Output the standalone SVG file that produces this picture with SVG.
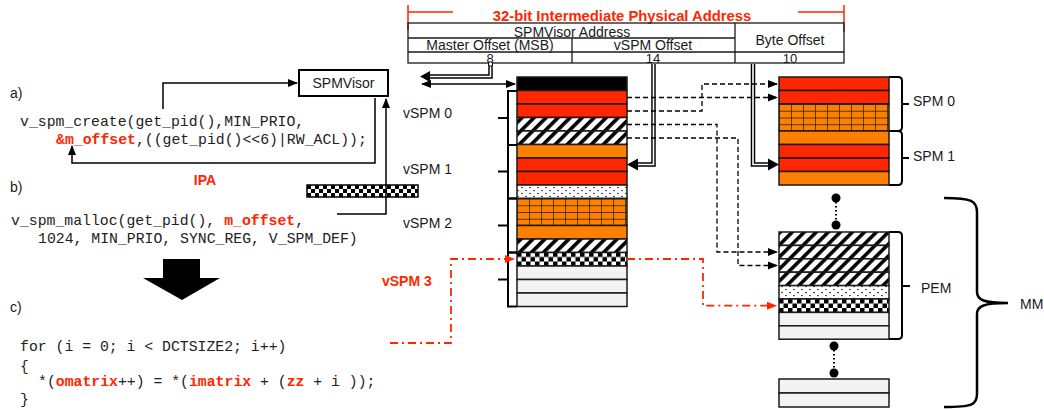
<svg xmlns="http://www.w3.org/2000/svg" width="1044" height="410" viewBox="0 0 1044 410">
<style>
.t{font-family:"Liberation Sans",Arial,sans-serif;font-size:14px;fill:#1a1a1a}
.ts{font-family:"Liberation Sans",Arial,sans-serif;font-size:13px;fill:#1a1a1a}
.tb{font-family:"Liberation Sans",Arial,sans-serif;font-size:14px;font-weight:bold;fill:#ff2600}
.code{font-family:"Liberation Mono","Courier New",monospace;font-size:14.8px;fill:#222}
.cr{fill:#ff2600;font-weight:bold}
.row{stroke:#1a1a1a;stroke-width:1.5}
.red{fill:#ff2600}.org{fill:#ff8000}.gry{fill:#f3f3f3}.blk{fill:#000}
.ln{fill:none;stroke:#000;stroke-width:1.5}
.dash{fill:none;stroke:#000;stroke-width:1.3;stroke-dasharray:5 3}
.rdd{fill:none;stroke:#ff2600;stroke-width:1.8;stroke-dasharray:8 4 2 4}
.brk{fill:none;stroke:#000;stroke-width:2}
.dbo{fill:none;stroke:#000;stroke-width:4.5}
.dbi{fill:none;stroke:#fff;stroke-width:1.6}
.tbl{fill:none;stroke:#1a1a1a;stroke-width:1.3}
</style>
<defs>
<marker id="ah" markerWidth="10" markerHeight="10" refX="9" refY="5" orient="auto" markerUnits="userSpaceOnUse"><path d="M0,1 L10,5 L0,9 Z" fill="#000"/></marker>
<marker id="ahs" markerWidth="10" markerHeight="10" refX="1" refY="5" orient="auto" markerUnits="userSpaceOnUse"><path d="M10,1 L0,5 L10,9 Z" fill="#000"/></marker>
<marker id="ahr" markerWidth="10" markerHeight="10" refX="9" refY="5" orient="auto" markerUnits="userSpaceOnUse"><path d="M0,1 L10,5 L0,9 Z" fill="#ff2600"/></marker>
<pattern id="hatch" patternUnits="userSpaceOnUse" width="8.5" height="8.5" patternTransform="rotate(45)"><rect width="8.5" height="8.5" fill="#fff"/><rect width="3.6" height="8.5" fill="#000"/></pattern>
<pattern id="dots" patternUnits="userSpaceOnUse" width="8" height="6"><rect width="8" height="6" fill="#fff"/><circle cx="2" cy="1.5" r="0.75" fill="#000"/><circle cx="6" cy="4.5" r="0.75" fill="#000"/></pattern>
<pattern id="chkA" patternUnits="userSpaceOnUse" x="517" y="252.5" width="9" height="9"><rect width="9" height="9" fill="#fff"/><rect width="4.5" height="4.5" fill="#000"/><rect x="4.5" y="4.5" width="4.5" height="4.5" fill="#000"/></pattern>
<pattern id="chkB" patternUnits="userSpaceOnUse" x="779" y="299" width="9" height="9"><rect width="9" height="9" fill="#fff"/><rect width="4.5" height="4.5" fill="#000"/><rect x="4.5" y="4.5" width="4.5" height="4.5" fill="#000"/></pattern>
<pattern id="chkC" patternUnits="userSpaceOnUse" x="307" y="185" width="8" height="8"><rect width="8" height="8" fill="#fff"/><rect width="4" height="4" fill="#000"/><rect x="4" y="4" width="4" height="4" fill="#000"/></pattern>
<pattern id="gridA" patternUnits="userSpaceOnUse" x="517" y="198.5" width="12" height="6.75"><rect width="12" height="6.75" fill="#ff8000"/><path d="M0,0 H12 M0,0 V6.75" stroke="#1a1a1a" stroke-width="1.4" fill="none"/></pattern>
<pattern id="gridB" patternUnits="userSpaceOnUse" x="779" y="104" width="12" height="6.75"><rect width="12" height="6.75" fill="#ff8000"/><path d="M0,0 H12 M0,0 V6.75" stroke="#1a1a1a" stroke-width="1.4" fill="none"/></pattern>
</defs>
<rect width="1044" height="410" fill="#fff"/>

<g id="ipa-table">
<path d="M408,5 V30 M844,5 V32 M408,12 H453 M798,12 H844" stroke="#ff2600" stroke-width="1.5" fill="none"/>
<text class="tb" x="622" y="21" text-anchor="middle" style="font-size:14.8px">32-bit Intermediate Physical Address</text>
<rect class="tbl" x="408" y="23" width="436" height="40" fill="#fff"/>
<path class="tbl" d="M408,38 H735 M408,52 H844 M735,23 V63 M572,38 V63"/>
<text class="t" x="572" y="36.5" text-anchor="middle">SPMVisor Address</text>
<text class="t" x="490" y="50" text-anchor="middle">Master Offset (MSB)</text>
<text class="t" x="653" y="50" text-anchor="middle">vSPM Offset</text>
<text class="t" x="790" y="45" text-anchor="middle">Byte Offset</text>
<text class="ts" x="490" y="63" text-anchor="middle">8</text>
<text class="ts" x="653" y="63" text-anchor="middle">14</text>
<text class="ts" x="790" y="63" text-anchor="middle">10</text>
</g>

<g id="code">
<text class="t" x="10" y="98">a)</text>
<text class="t" x="10" y="192">b)</text>
<text class="t" x="10" y="312">c)</text>
<text class="code" x="20" y="126" xml:space="preserve">v_spm_create(get_pid(),MIN_PRIO,</text>
<text class="code" x="56" y="144" xml:space="preserve"><tspan class="cr">&amp;m_offset</tspan>,((get_pid()&lt;&lt;6)|RW_ACL));</text>
<text class="code" x="11" y="225" xml:space="preserve">v_spm_malloc(get_pid(), <tspan class="cr">m_offset</tspan>,</text>
<text class="code" x="38" y="243" xml:space="preserve">1024, MIN_PRIO, SYNC_REG, V_SPM_DEF)</text>
<text class="code" x="20" y="351" xml:space="preserve">for (i = 0; i &lt; DCTSIZE2; i++)</text>
<text class="code" x="20" y="371" xml:space="preserve">{</text>
<text class="code" x="38" y="386" xml:space="preserve">*(<tspan class="cr">omatrix</tspan>++) = *(<tspan class="cr">imatrix</tspan> + (<tspan class="cr">zz</tspan> + i ));</text>
<text class="code" x="20" y="404" xml:space="preserve">}</text>
<text class="tb" x="205" y="185" text-anchor="middle">IPA</text>
<path d="M163,259 H200 V278 H220 L182,300 L143,278 H163 Z" fill="#000"/>
</g>

<g id="spmvisor">
<rect x="299" y="70" width="89" height="26" fill="#fff" stroke="#000" stroke-width="2"/>
<text class="t" x="343.5" y="88" text-anchor="middle">SPMVisor</text>
</g>

<g id="checker-bar">
<rect x="307" y="185" width="111" height="12" fill="url(#chkC)" stroke="#000" stroke-width="1.5"/>
</g>

<g id="vspm-stack">
<rect class="row blk" x="517" y="77" width="110" height="13.5"/>
<rect class="row red" x="517" y="90.5" width="110" height="13.5"/>
<rect class="row red" x="517" y="104" width="110" height="13.5"/>
<rect class="row" fill="url(#hatch)" x="517" y="117.5" width="110" height="13.5"/>
<rect class="row" fill="url(#hatch)" x="517" y="131" width="110" height="13.5"/>
<rect class="row org" x="517" y="144.5" width="110" height="13.5"/>
<rect class="row red" x="517" y="158" width="110" height="13.5"/>
<rect class="row red" x="517" y="171.5" width="110" height="13.5"/>
<rect class="row" fill="url(#dots)" x="517" y="185" width="110" height="13.5"/>
<rect class="row" fill="url(#gridA)" x="517" y="198.5" width="110" height="27"/>
<rect class="row org" x="517" y="225.5" width="110" height="13.5"/>
<rect class="row" fill="url(#hatch)" x="517" y="239" width="110" height="13.5"/>
<rect class="row" fill="url(#chkA)" x="517" y="252.5" width="110" height="13.5"/>
<rect class="row gry" x="517" y="266" width="110" height="13.5"/>
<rect class="row gry" x="517" y="279.5" width="110" height="13.5"/>
<rect class="row gry" x="517" y="293" width="110" height="13.5"/>
</g>

<g id="vspm-brackets">
<path class="brk" d="M517,91 H508 V145 H517 M508,118 H498"/>
<path class="brk" d="M517,145 H508 V198.5 H517 M508,171.5 H498"/>
<path class="brk" d="M517,198.5 H508 V252.5 H517 M508,225.5 H498"/>
<path class="brk" d="M517,252.5 H508 V306.5 H517 M508,279.5 H498"/>
<text class="t" x="403" y="118">vSPM 0</text>
<text class="t" x="403" y="174">vSPM 1</text>
<text class="t" x="403" y="228">vSPM 2</text>
<text class="tb" x="382" y="286">vSPM 3</text>
</g>

<g id="spm-stack">
<rect class="row red" x="779" y="77" width="110" height="13.5"/>
<rect class="row red" x="779" y="90.5" width="110" height="13.5"/>
<rect class="row" fill="url(#gridB)" x="779" y="104" width="110" height="27"/>
<rect class="row org" x="779" y="131" width="110" height="13.5"/>
<rect class="row red" x="779" y="144.5" width="110" height="13.5"/>
<rect class="row red" x="779" y="158" width="110" height="13.5"/>
<rect class="row org" x="779" y="171.5" width="110" height="13.5"/>
<path class="brk" d="M889,77 H898 Q902,77 902,81 V127 Q902,131 898,131 H889 M902,104 H909"/>
<path class="brk" d="M889,131 H898 Q902,131 902,135 V181 Q902,185 898,185 H889 M902,158 H909"/>
<text class="t" x="913" y="106">SPM 0</text>
<text class="t" x="913" y="161">SPM 1</text>
</g>

<g id="pem-stack">
<rect class="row" fill="url(#hatch)" x="779" y="232" width="110" height="13.4"/>
<rect class="row" fill="url(#hatch)" x="779" y="245.4" width="110" height="13.4"/>
<rect class="row" fill="url(#hatch)" x="779" y="258.8" width="110" height="13.4"/>
<rect class="row" fill="url(#hatch)" x="779" y="272.2" width="110" height="13.4"/>
<rect class="row" fill="url(#dots)" x="779" y="285.6" width="110" height="13.4"/>
<rect class="row" fill="url(#chkB)" x="779" y="299" width="110" height="13.4"/>
<rect class="row gry" x="779" y="312.4" width="110" height="13.4"/>
<rect class="row gry" x="779" y="325.8" width="110" height="13.4"/>
<path class="brk" d="M889,232 H898 Q902,232 902,236 V335 Q902,339 898,339 H889 M902,286 H910"/>
<text class="t" x="921" y="293">PEM</text>
</g>

<g id="mm-stack">
<rect class="row gry" x="779" y="379" width="110" height="14"/>
<rect class="row gry" x="779" y="393" width="110" height="14"/>
<circle cx="836" cy="198" r="4.5" fill="#000"/>
<circle cx="836" cy="225" r="4.5" fill="#000"/>
<path d="M836,202 V221" stroke="#000" stroke-width="2" stroke-dasharray="1.5 2.5"/>
<circle cx="834" cy="346" r="4.5" fill="#000"/>
<circle cx="834" cy="373" r="4.5" fill="#000"/>
<path d="M834,350 V369" stroke="#000" stroke-width="2" stroke-dasharray="1.5 2.5"/>
<path d="M944,198 C972,198 977,201 977,212 V292 C977,300 984,303 1008,303 C984,303 977,306 977,314 V394 C977,405 972,407 944,407" fill="none" stroke="#000" stroke-width="2.5"/>
<text class="t" x="1020" y="309">MM</text>
</g>

<g id="connectors">
<path class="ln" d="M163,109 V83 H297" marker-end="url(#ah)"/>
<path class="ln" d="M375,98 V163 H72 V146" marker-end="url(#ah)"/>
<path class="ln" d="M337,214 H386 V99" marker-end="url(#ah)"/>
<path class="dbo" d="M490.5,63 V76.5 H428"/>
<path class="dbi" d="M490.5,63 V76.5 H428"/>
<path d="M420,76.5 L430,71 L430,82 Z" fill="#000"/>
<circle cx="490.5" cy="64" r="2.2" fill="#fff" stroke="#000" stroke-width="1"/>
<path class="ln" d="M422,84 H515" marker-start="url(#ahs)" marker-end="url(#ah)"/>
<path class="dbo" d="M653.5,64 V164.5 H636"/>
<path class="dbi" d="M653.5,64 V164.5 H636"/>
<path d="M627,164.5 L638,158.5 L638,170.5 Z" fill="#000"/>
<path class="dbo" d="M753,64 V164.5 H770"/>
<path class="dbi" d="M753,64 V164.5 H770"/>
<path d="M779,164.5 L768,158.5 L768,170.5 Z" fill="#000"/>
<path class="dash" d="M627,97.5 H777" marker-end="url(#ah)"/>
<path class="dash" d="M627,111 H702 V84 H777" marker-end="url(#ah)"/>
<path class="dash" d="M627,124.5 H717 V252 H777" marker-end="url(#ah)"/>
<path class="dash" d="M627,138 H738 V265.5 H777" marker-end="url(#ah)"/>
<path class="rdd" d="M390,343 H451 V259 H514" marker-end="url(#ahr)"/>
<path class="rdd" d="M627,259 H703 V305.7 H776" marker-end="url(#ahr)"/>
</g>
</svg>
